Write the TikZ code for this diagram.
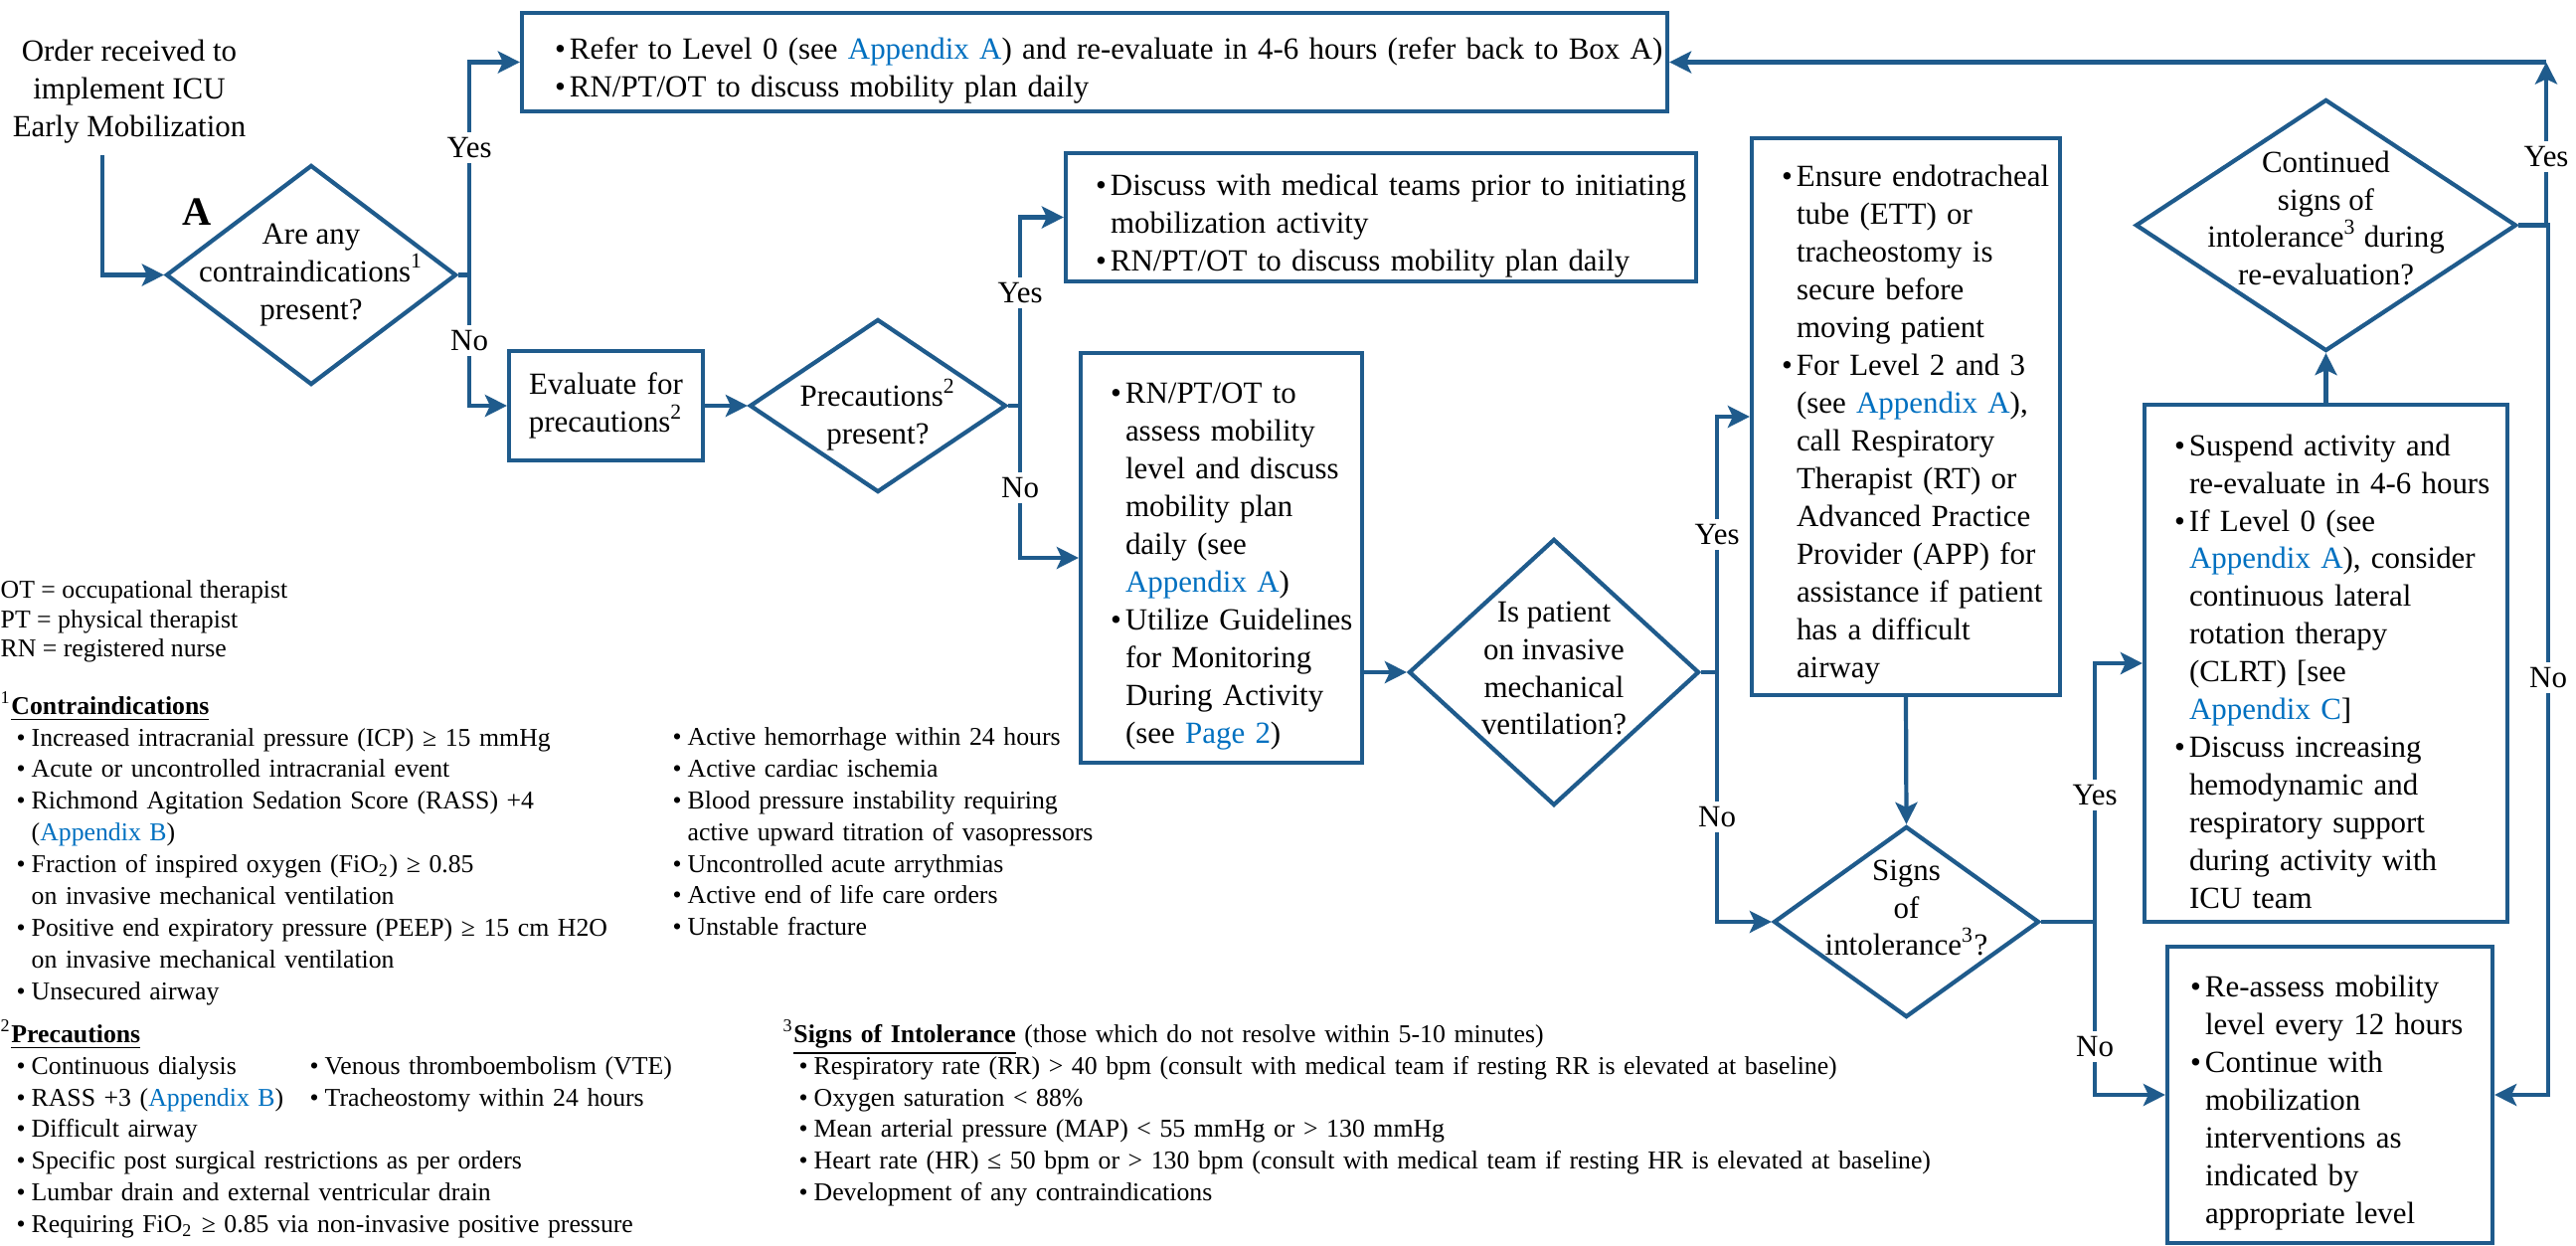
\documentclass[tikz,border=0pt]{standalone}
\usepackage{fontspec}
\setmainfont{Liberation Serif}
\usepackage{xcolor}
\usetikzlibrary{shapes.geometric,arrows.meta,positioning,calc}

\definecolor{flowblue}{RGB}{31,91,140}
\definecolor{linkblue}{RGB}{0,112,192}

\newcommand{\boxfont}{\fontsize{8.8}{10.8}\selectfont\parindent=0pt\hyphenpenalty=10000}
\newcommand{\notefont}{\fontsize{7.33}{9.07}\selectfont\parindent=0pt\hyphenpenalty=10000}
\newcommand{\lnk}[1]{\textcolor{linkblue}{#1}}
\newcommand{\bitem}[1][0.3cm]{\par\noindent\rightskip=-1cm plus 1fil\hangindent=\dimexpr#1+0.15cm\relax\hangafter=1\hspace*{#1}\makebox[0.15cm][l]{\textbullet}\ignorespaces}

\begin{document}
\begin{tikzpicture}[
    box/.style n args={2}{rectangle, draw=flowblue, line width=1.2pt, inner sep=0pt, align=left, font=\boxfont, text width=#1, minimum width=#1, minimum height=#2},
    dia/.style n args={2}{diamond, draw=flowblue, line width=1.2pt, inner sep=0pt, minimum width=#1, minimum height=#2},
    dtext/.style={align=center, font=\boxfont, inner sep=0pt},
    lbl/.style={fill=white, inner sep=1.5pt, font=\boxfont},
    note/.style={anchor=north west, align=left, inner sep=0pt, font=\notefont},
    arrow/.style={draw=flowblue, line width=1.2pt, -{Stealth[length=2.2mm, width=2.2mm, inset=0.5mm]}}
]
\useasboundingbox (0,0) rectangle (25.91,-12.52);

% Start and Box A
\node[align=center, font=\boxfont] (order) at (1.30,-0.92) {Order received to\\implement ICU\\Early Mobilization};
\node[dia={2.92cm}{2.21cm}, label={[dtext]center:{Are any\\contraindications\textsuperscript{1}\\present?}}] (d1) at (3.13,-2.765) {};
\node[font=\fontsize{11.5}{12}\selectfont\bfseries] (boxA) at (1.98,-2.13) {A};

% Top row - contraindications present
\node[box={11.52cm}{0.99cm}] (refer) at (11.01,-0.625) {\bitem[0.33cm] Refer to Level 0 (see \lnk{Appendix A}) and re-evaluate in 4-6 hours (refer back to Box A)\bitem[0.33cm] RN/PT/OT to discuss mobility plan daily\par};

% Precautions
\node[box={1.95cm}{1.10cm}, align=center] (eval) at (6.095,-4.08) {Evaluate for\\precautions\textsuperscript{2}};
\node[dia={2.58cm}{1.74cm}, label={[dtext, yshift=-0.09cm]center:{Precautions\textsuperscript{2}\\present?}}] (d2) at (8.83,-4.08) {};
\node[box={6.34cm}{1.29cm}] (discuss) at (13.89,-2.185) {\bitem Discuss with medical teams prior to initiating\newline mobilization activity\bitem RN/PT/OT to discuss mobility plan daily\par};
\node[box={2.83cm}{4.12cm}] (assess) at (12.285,-5.61) {\bitem RN/PT/OT to\newline assess mobility\newline level and discuss\newline mobility plan\newline daily (see\newline \lnk{Appendix A})\bitem Utilize Guidelines\newline for Monitoring\newline During Activity\newline (see \lnk{Page 2})\par};

% Ventilation and intolerance
\node[dia={2.92cm}{2.68cm}, label={[dtext, yshift=0.04cm]center:{Is patient\\on invasive\\mechanical\\ventilation?}}] (d3) at (15.63,-6.76) {};
\node[box={3.10cm}{5.60cm}] (airway) at (19.17,-4.19) {\bitem Ensure endotracheal\newline tube (ETT) or\newline tracheostomy is\newline secure before\newline moving patient\bitem For Level 2 and 3\newline (see \lnk{Appendix A}),\newline call Respiratory\newline Therapist (RT) or\newline Advanced Practice\newline Provider (APP) for\newline assistance if patient\newline has a difficult\newline airway\par};
\node[dia={2.67cm}{1.92cm}, label={[dtext, yshift=0.14cm]center:{Signs\\of\\intolerance\textsuperscript{3}?}}] (d5) at (19.175,-9.27) {};
\node[box={3.65cm}{5.20cm}] (suspend) at (23.395,-6.67) {\bitem Suspend activity and\newline re-evaluate in 4-6 hours\bitem If Level 0 (see\newline \lnk{Appendix A}), consider\newline continuous lateral\newline rotation therapy\newline (CLRT) [see\newline \lnk{Appendix C}]\bitem Discuss increasing\newline hemodynamic and\newline respiratory support\newline during activity with\newline ICU team\par};
\node[dia={3.83cm}{2.53cm}, label={[dtext, yshift=0.07cm]center:{Continued\\signs of\\intolerance\textsuperscript{3} during\\re-evaluation?}}] (d4) at (23.395,-2.265) {};
\node[box={3.27cm}{2.98cm}] (reassess) at (23.435,-11.01) {\bitem[0.23cm] Re-assess mobility\newline level every 12 hours\bitem[0.23cm] Continue with\newline mobilization\newline interventions as\newline indicated by\newline appropriate level\par};
\coordinate (loopback) at (25.61,-0.625);

% Connectors
\draw[arrow] ([xshift=-0.27cm]order.south) |- (d1.west);
\draw[arrow] (d1.east) -- ++(0.11,0) |- node[lbl, pos=0.3] {Yes} (refer.west);
\draw[arrow] (d1.east) -- ++(0.11,0) |- node[lbl, pos=0.25] {No} (eval.west);
\draw[arrow] (eval) -- (d2);
\draw[arrow] (d2.east) -- ++(0.12,0) |- node[lbl, pos=0.3] {Yes} (discuss.west);
\draw[arrow] (d2.east) -- ++(0.12,0) |- node[lbl, pos=0.27] {No} (assess.west);
\draw[arrow] (assess.east |- d3.west) -- (d3.west);
\draw[arrow] (d3.east) -- ++(0.16,0) |- node[lbl, pos=0.27] {Yes} (airway.west);
\draw[arrow] (d3.east) -- ++(0.16,0) |- node[lbl, pos=0.29] {No} (d5.west);
\draw[arrow] (airway.south) -- (d5.north);
\draw[arrow] (d5.east) -- ++(0.54,0) |- node[lbl, pos=0.245] {Yes} (suspend.west);
\draw[arrow] (d5.east) -- ++(0.54,0) |- node[lbl, pos=0.36] {No} (reassess.west);
\draw[arrow] (suspend.north) -- (d4.south);
\draw[arrow] (d4.east) -| node[lbl, pos=0.71] {Yes} (loopback);
\draw[arrow] (loopback) -- (refer.east);
\draw[arrow] (d4.east) -- ++(0.3,0) |- node[lbl, pos=0.26] {No} (reassess.east);

% Footnotes
\node[note, font=\fontsize{7.33}{8.4}\selectfont] (abbrev) at (0,-5.83) {OT = occupational therapist\\PT = physical therapist\\RN = registered nurse};
\node[note, text width=6.5cm] (contra) at (0,-6.95) {\textsuperscript{1}\underline{\textbf{Contraindications}}\bitem[0.16cm] Increased intracranial pressure (ICP) ≥ 15 mmHg\bitem[0.16cm] Acute or uncontrolled intracranial event\bitem[0.16cm] Richmond Agitation Sedation Score (RASS) +4\newline (\lnk{Appendix B})\bitem[0.16cm] Fraction of inspired oxygen (FiO\textsubscript{2}) ≥ 0.85\newline on invasive mechanical ventilation\bitem[0.16cm] Positive end expiratory pressure (PEEP) ≥ 15 cm H2O\newline on invasive mechanical ventilation\bitem[0.16cm] Unsecured airway\par};
\node[note, text width=5cm] (contra2) at (6.60,-7.17) {\bitem[0.16cm] Active hemorrhage within 24 hours\bitem[0.16cm] Active cardiac ischemia\bitem[0.16cm] Blood pressure instability requiring\newline active upward titration of vasopressors\bitem[0.16cm] Uncontrolled acute arrythmias\bitem[0.16cm] Active end of life care orders\bitem[0.16cm] Unstable fracture\par};
\node[note, text width=7.5cm] (precaut) at (0,-10.25) {\textsuperscript{2}\underline{\textbf{Precautions}}\bitem[0.16cm] Continuous dialysis\bitem[0.16cm] RASS +3 (\lnk{Appendix B})\bitem[0.16cm] Difficult airway\bitem[0.16cm] Specific post surgical restrictions as per orders\bitem[0.16cm] Lumbar drain and external ventricular drain\bitem[0.16cm] Requiring FiO\textsubscript{2} ≥ 0.85 via non-invasive positive pressure\par};
\node[note, text width=4.5cm] (precaut2) at (2.95,-10.48) {\bitem[0.16cm] Venous thromboembolism (VTE)\bitem[0.16cm] Tracheostomy within 24 hours\par};
\node[note, text width=12cm] (intol) at (7.87,-10.25) {\textsuperscript{3}\underline{\textbf{Signs of Intolerance}} (those which do not resolve within 5-10 minutes)\bitem[0.16cm] Respiratory rate (RR) > 40 bpm (consult with medical team if resting RR is elevated at baseline)\bitem[0.16cm] Oxygen saturation < 88\%\bitem[0.16cm] Mean arterial pressure (MAP) < 55 mmHg or > 130 mmHg\bitem[0.16cm] Heart rate (HR) ≤ 50 bpm or > 130 bpm (consult with medical team if resting HR is elevated at baseline)\bitem[0.16cm] Development of any contraindications\par};

\end{tikzpicture}
\end{document}
